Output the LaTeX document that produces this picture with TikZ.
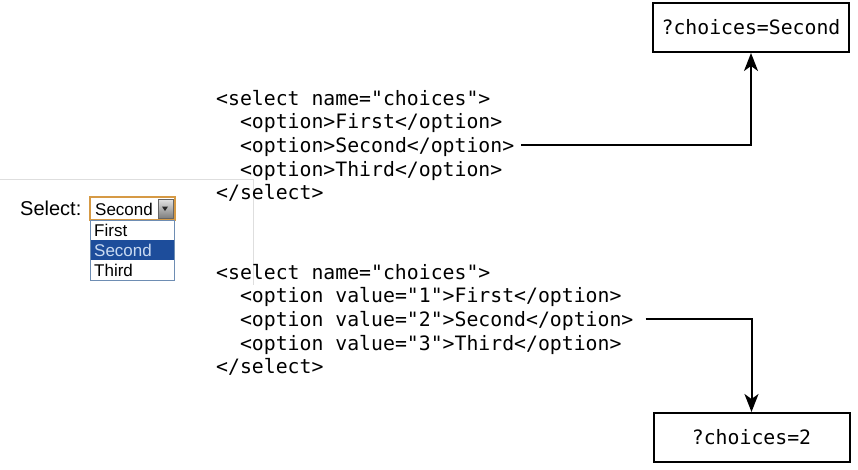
\documentclass[tikz,border=0pt]{standalone}
\usepackage{fontspec}
\setmonofont{DejaVu Sans Mono}
\newfontfamily\uifont{Liberation Sans}
\usetikzlibrary{arrows.meta}
\definecolor{ddorange}{HTML}{D69A45}
\definecolor{ddblue}{HTML}{1D4D9B}
\definecolor{ddborder}{HTML}{6E8DB3}
\definecolor{ddtext}{HTML}{C9DAF2}
\tikzset{
  codeline/.style={anchor=base west, inner sep=0pt, font=\ttfamily\fontsize{19.8}{23.7}\selectfont, text height=14pt, text depth=0pt},
  resultbox/.style={draw, line width=2pt, minimum width=196pt, minimum height=49pt, inner sep=0pt, font=\ttfamily\fontsize{19.8}{23.7}\selectfont},
  flow/.style={draw, line width=2pt, -{Stealth[length=18pt,width=14pt,inset=5pt]}},
  itemtext/.style={anchor=base west, inner sep=0pt, font=\uifont\fontsize{17}{18}\selectfont},
  guide/.style={draw=black!13, line width=1pt}
}
\begin{document}
\begin{tikzpicture}[x=1pt,y=-1pt]
\useasboundingbox (0,0) rectangle (858,469);
% faint guide lines
\draw[guide] (0,179) -- (253,179) -- (253,285);
% result boxes
\node[resultbox] (q1) at (751,27.5) {?choices=Second};
\node[resultbox] (q2) at (751.5,437.5) {?choices=2};
% first code block
\node[codeline] (a1) at (216,105) {<select name="choices">};
\node[codeline] (a2) at (216,128.7) {\ \ <option>First</option>};
\node[codeline] (a3) at (216,152.4) {\ \ <option>Second</option>};
\node[codeline] (a4) at (216,176.1) {\ \ <option>Third</option>};
\node[codeline] (a5) at (216,199.8) {</select>};
% second code block
\node[codeline] (b1) at (216,279) {<select name="choices">};
\node[codeline] (b2) at (216,302.7) {\ \ <option value="1">First</option>};
\node[codeline] (b3) at (216,326.4) {\ \ <option value="2">Second</option>};
\node[codeline] (b4) at (216,350.1) {\ \ <option value="3">Third</option>};
\node[codeline] (b5) at (216,373.8) {</select>};
% connectors
\coordinate (s1) at ([xshift=7pt]a3.east);
\coordinate (s2) at ([xshift=12pt]b3.east);
\draw[flow] (s1) -| (q1.south);
\draw[flow] (s2) -| (q2.north);
% select widget
\node[anchor=base west, inner sep=0pt, font=\uifont\fontsize{20}{21}\selectfont] (lbl) at (20,215) {Select:};
\draw[ddorange, line width=1.6pt, fill=white] (90,197) rectangle (175,220);
\node[itemtext] (cur) at (95,215) {Second};
\shade[top color=black!12, bottom color=black!50, draw=black!60, line width=0.6pt] (158,199.5) rectangle (173,218);
\fill[black!85] (162,206.5) -- (168,206.5) -- (165,211) -- cycle;
\draw[ddborder, line width=1pt, fill=white] (90.5,220) rectangle (174,280);
\fill[ddblue] (91,240) rectangle (173.5,260);
\node[itemtext] (o1) at (94,236) {First};
\node[itemtext, text=ddtext] (o2) at (94,256) {Second};
\node[itemtext] (o3) at (94,276) {Third};
\end{tikzpicture}
\end{document}
